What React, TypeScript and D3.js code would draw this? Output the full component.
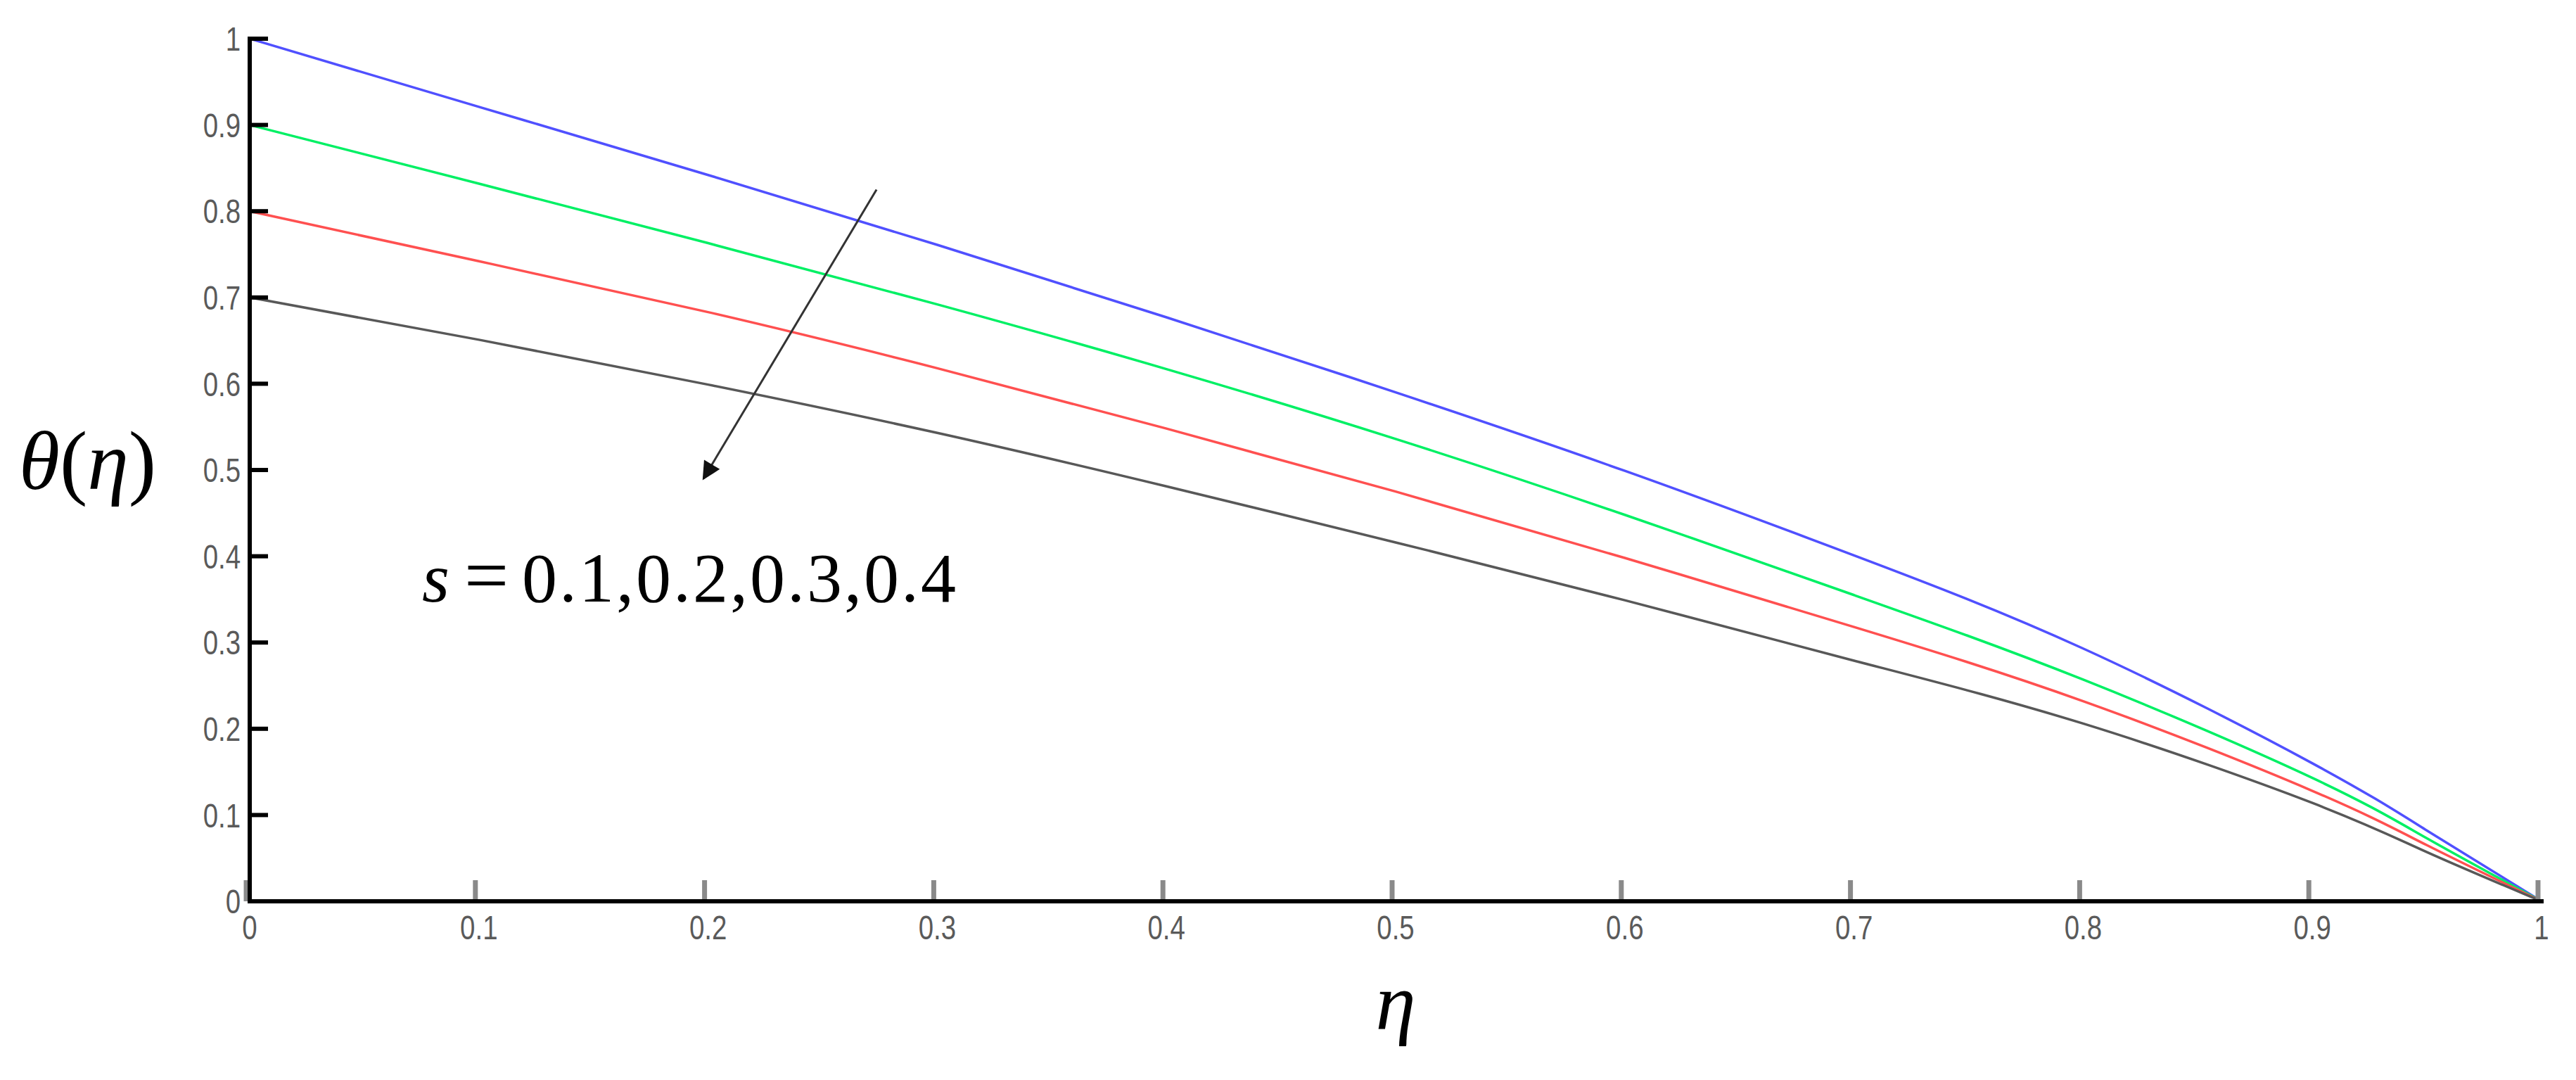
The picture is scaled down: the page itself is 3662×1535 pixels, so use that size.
import * as d3 from "d3";
import { useEffect, useRef } from "react";

// similarity variable eta and temperature profiles theta(eta), one per s
const eta = [0, 0.1, 0.2, 0.3, 0.4, 0.5, 0.6, 0.7, 0.8, 0.9, 0.95, 1];
const thetaS1 = [1.0, 0.921, 0.842, 0.761, 0.677, 0.59, 0.499, 0.401, 0.293, 0.16, 0.082, 0];
const thetaS2 = [0.9, 0.832, 0.763, 0.692, 0.617, 0.536, 0.448, 0.355, 0.257, 0.143, 0.073, 0];
const thetaS3 = [0.8, 0.742, 0.683, 0.618, 0.548, 0.475, 0.398, 0.318, 0.232, 0.128, 0.065, 0];
const thetaS4 = [0.7, 0.651, 0.599, 0.543, 0.481, 0.416, 0.349, 0.279, 0.206, 0.114, 0.057, 0];
const sValues = ["0.1", "0.2", "0.3", "0.4"];
const seriesColors = ["#5050ff", "#00f064", "#ff5050", "#585858"];

const xTicks = [0, 0.1, 0.2, 0.3, 0.4, 0.5, 0.6, 0.7, 0.8, 0.9, 1];
const yTicks = [0, 0.1, 0.2, 0.3, 0.4, 0.5, 0.6, 0.7, 0.8, 0.9, 1];

// arrow through the curves, in data units: [eta, theta] start -> end
const arrowFrom = [0.2735, 0.825];
const arrowTo = [0.198, 0.49];

function ThetaChart({
  width = 3662,
  height = 1535,
  marginTop = 55,
  marginRight = 49,
  marginBottom = 254,
  marginLeft = 355,
} = {}) {
  const ref = useRef<SVGSVGElement>(null);

  useEffect(() => {
    const svg = d3.select(ref.current);
    svg.selectAll("*").remove();

    const x = d3.scaleLinear([0, 1], [marginLeft, width - marginRight]);
    const y = d3.scaleLinear([0, 1], [height - marginBottom, marginTop]);

    svg
      .append("defs")
      .append("marker")
      .attr("id", "arrowhead")
      .attr("viewBox", "0 0 10 10")
      .attr("refX", 9)
      .attr("refY", 5)
      .attr("markerWidth", 34)
      .attr("markerHeight", 26)
      .attr("markerUnits", "userSpaceOnUse")
      .attr("orient", "auto")
      .append("path")
      .attr("d", "M0,0L10,5L0,10Z")
      .attr("fill", "#111");

    // curves
    const series = [thetaS1, thetaS2, thetaS3, thetaS4];
    const line = d3
      .line<[number, number]>()
      .x((d) => x(d[0]))
      .y((d) => y(d[1]))
      .curve(d3.curveNatural);

    svg
      .append("g")
      .attr("fill", "none")
      .attr("stroke-width", 3.5)
      .selectAll("path")
      .data(series)
      .join("path")
      .attr("stroke", (d, i) => seriesColors[i])
      .attr("d", (d) => line(eta.map((e, i) => [e, d[i]] as [number, number])));

    // x ticks (grey, pointing up)
    svg
      .append("g")
      .selectAll("line")
      .data(xTicks)
      .join("line")
      .attr("x1", (d) => x(d) - 5)
      .attr("x2", (d) => x(d) - 5)
      .attr("y1", y(0))
      .attr("y2", y(0) - 30)
      .attr("stroke", "#8a8a8a")
      .attr("stroke-width", 7);

    // y ticks (black, pointing right)
    svg
      .append("g")
      .selectAll("line")
      .data(yTicks.slice(1))
      .join("line")
      .attr("x1", x(0))
      .attr("x2", x(0) + 26)
      .attr("y1", (d) => y(d))
      .attr("y2", (d) => y(d))
      .attr("stroke", "#000")
      .attr("stroke-width", 6);

    // axis lines
    svg
      .append("path")
      .attr("d", `M${x(0)},${y(1)}V${y(0)}H${x(1)}`)
      .attr("fill", "none")
      .attr("stroke", "#000")
      .attr("stroke-width", 6)
      .attr("stroke-linecap", "square");

    // tick labels, narrow grey sans
    const fmt = (d: number) => `${d}`;
    const tickFont = "'Liberation Sans', Arial, sans-serif";

    svg
      .append("g")
      .attr("font-family", tickFont)
      .attr("font-size", 48)
      .attr("fill", "#5a5a5a")
      .attr("text-anchor", "end")
      .selectAll("text")
      .data(yTicks)
      .join("text")
      .attr("transform", (d) => `translate(${x(0) - 13},${y(d)}) scale(0.8,1)`)
      .attr("dy", "0.36em")
      .text(fmt);

    svg
      .append("g")
      .attr("font-family", tickFont)
      .attr("font-size", 48)
      .attr("fill", "#5a5a5a")
      .attr("text-anchor", "middle")
      .selectAll("text")
      .data(xTicks)
      .join("text")
      .attr("transform", (d) => `translate(${x(d)},${y(0) + 54}) scale(0.8,1)`)
      .text(fmt);

    const serif = "'Liberation Serif', 'Times New Roman', serif";

    // y label theta(eta)
    const yl = svg
      .append("text")
      .attr("x", 27)
      .attr("y", 695)
      .attr("font-family", serif)
      .attr("font-size", 118)
      .attr("fill", "#000");
    yl.append("tspan").attr("font-style", "italic").text("θ");
    yl.append("tspan").text("(");
    yl.append("tspan").attr("font-style", "italic").text("η");
    yl.append("tspan").text(")");

    // x label eta
    svg
      .append("text")
      .attr("x", x(0.5))
      .attr("y", 1463)
      .attr("text-anchor", "middle")
      .attr("font-family", serif)
      .attr("font-size", 115)
      .attr("font-style", "italic")
      .attr("fill", "#000")
      .text("η");

    // arrow
    svg
      .append("line")
      .attr("x1", x(arrowFrom[0]))
      .attr("y1", y(arrowFrom[1]))
      .attr("x2", x(arrowTo[0]))
      .attr("y2", y(arrowTo[1]))
      .attr("stroke", "#333")
      .attr("stroke-width", 3)
      .attr("marker-end", "url(#arrowhead)");

    // annotation s = 0.1,0.2,0.3,0.4
    const ann = svg
      .append("text")
      .attr("x", 600)
      .attr("y", 855)
      .attr("font-family", serif)
      .attr("font-size", 100)
      .attr("fill", "#000");
    ann.append("tspan").attr("font-style", "italic").text("s");
    ann.append("tspan").attr("x", 660).attr("font-size", 112).text("=");
    ann
      .append("tspan")
      .attr("x", 742)
      .attr("letter-spacing", 3)
      .text(sValues.join(","));
  }, []);

  return (
    <svg
      ref={ref}
      width={width}
      height={height}
      style={{ position: "absolute", left: 0, top: 0, background: "#fff" }}
    ></svg>
  );
}

export default function App() {
  return <ThetaChart />;
}
